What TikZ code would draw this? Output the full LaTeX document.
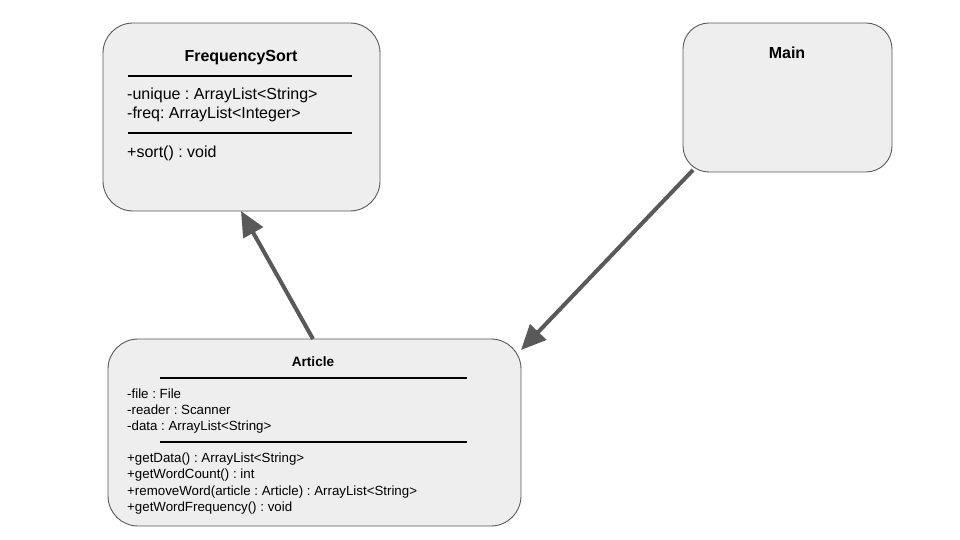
\documentclass[tikz,border=0pt]{standalone}
\usepackage{fontspec}
\setmainfont{Liberation Sans}
\usetikzlibrary{arrows.meta}
\definecolor{boxfill}{HTML}{EEEEEE}
\definecolor{boxline}{HTML}{5A5A5A}
\definecolor{arrowgray}{HTML}{595959}
\frenchspacing
\begin{document}
\begin{tikzpicture}[x=1pt,y=-1pt,
  classbox/.style={draw=boxline,fill=boxfill,line width=0.9pt,rounded corners=#1},
  title/.style={font=\bfseries\fontsize{16}{18}\selectfont,anchor=base,inner sep=0pt},
  smalltitle/.style={font=\bfseries\fontsize{13.6}{15}\selectfont,anchor=base,inner sep=0pt},
  member/.style={font=\fontsize{16}{18}\selectfont,anchor=base west,inner sep=0pt},
  smallmember/.style={font=\fontsize{13.3}{15}\selectfont,anchor=base west,inner sep=0pt},
  divider/.style={line width=1.4pt,black},
  assoc/.style={arrowgray,line width=4pt,-{Triangle[length=25pt,width=22pt]}}]
\useasboundingbox[fill=white] (0,0) rectangle (960,540);

% FrequencySort class
\draw[classbox=30pt] (103,23) rectangle (380,211);
\node[title] (fsname) at (241,62) {FrequencySort};
\draw[divider] (128,76) -- (352,76);
\node[member] (fsunique) at (127,100) {-unique : ArrayList<String>};
\node[member] (fsfreq) at (127,119) {-freq: ArrayList<Integer>};
\draw[divider] (128,133) -- (352,133);
\node[member] (fssort) at (127,158) {+sort() : void};

% Main class
\draw[classbox=26pt] (683,23) rectangle (892,172);
\node[title] (mainname) at (787,59) {Main};

% Article class
\draw[classbox=30pt] (108,339) rectangle (521,526);
\node[smalltitle] (artname) at (313,366) {Article};
\draw[divider] (160,378) -- (467,378);
\node[smallmember] (artfile) at (127,398) {-file : File};
\node[smallmember] (artreader) at (127,414) {-reader : Scanner};
\node[smallmember] (artdata) at (127,430) {-data : ArrayList<String>};
\draw[divider] (160,442) -- (467,442);
\node[smallmember] (artget) at (127,462) {+getData() : ArrayList<String>};
\node[smallmember] (artcount) at (127,478) {+getWordCount() : int};
\node[smallmember] (artremove) at (127,495) {+removeWord(article : Article) : ArrayList<String>};
\node[smallmember] (artfreq) at (127,511) {+getWordFrequency() : void};

% connector end points on the class borders
\coordinate (articletop) at (313,339);
\coordinate (fsbottom) at (241,211);
\coordinate (maincorner) at (693,170);
\coordinate (articlecorner) at (521,350);

\draw[assoc] (articletop) -- (fsbottom);
\draw[assoc] (maincorner) -- (articlecorner);
\end{tikzpicture}
\end{document}
